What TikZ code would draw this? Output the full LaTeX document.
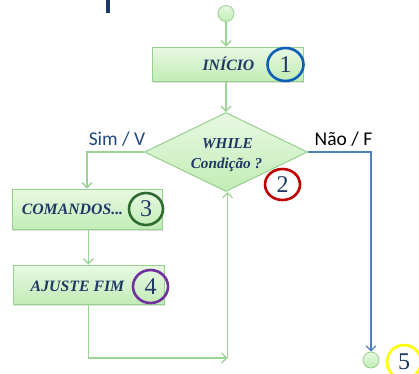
\documentclass[tikz,border=0pt]{standalone}
\usepackage{fontspec}
\setmainfont{Liberation Serif}
\newfontfamily\lblfont{Carlito}
\usetikzlibrary{shapes.geometric,arrows.meta,shadows}
\definecolor{navy}{HTML}{1F3864}
\definecolor{lblblue}{HTML}{1F497D}
\definecolor{gline}{HTML}{9CD497}
\definecolor{gborder}{HTML}{96D08E}
\definecolor{gtop}{HTML}{E8F9E2}
\definecolor{gbot}{HTML}{C2ECB6}
\definecolor{bline}{HTML}{4F81BD}
\definecolor{cblue}{HTML}{0E5FB8}
\definecolor{cred}{HTML}{C00000}
\definecolor{cgreen}{HTML}{2F6B30}
\definecolor{cpurple}{HTML}{7030A0}
\definecolor{cyellow}{HTML}{FFFF00}
\tikzset{
  boxstyle/.style={draw=gborder, line width=1pt, top color=gtop, bottom color=gbot,
    inner sep=0pt, drop shadow={opacity=0.25, shadow xshift=1.2pt, shadow yshift=-1.5pt}},
  boxtext/.style={font=\fontsize{15.8}{16}\selectfont\bfseries\itshape, text=navy, inner sep=0pt},
  numcirc/.style={ellipse, line width=2.6pt, inner sep=0pt, text=navy,
    font=\fontsize{24}{24}\selectfont},
  greenline/.style={draw=gline, line width=1.6pt, -{Straight Barb[length=5pt,width=10pt,line width=1.4pt]}},
  blueline/.style={draw=bline, line width=1.3pt, -{Straight Barb[length=5pt,width=10pt,line width=1.2pt]}},
  dotnode/.style={circle, draw=gborder, line width=0.8pt, top color=gtop, bottom color=gbot,
    minimum size=16pt, inner sep=0pt},
  lbl/.style={font=\lblfont\fontsize{19.5}{20}\selectfont, inner sep=0pt}
}
\begin{document}
\begin{tikzpicture}[x=1pt,y=-1pt]
\useasboundingbox[fill=white] (0,0) rectangle (419,373);
% clipped title fragment
\fill[navy] (106,0) rectangle (109.5,13);
% nodes
\node[dotnode] (start) at (226,13.5) {};
\node[boxstyle, minimum width=151pt, minimum height=34pt] (ini) at (227.5,64) {};
\node[boxtext] (initxt) at (228.5,64) {INÍCIO};
\node[numcirc, draw=cblue, minimum width=36pt, minimum height=33pt] (n1) at (285.5,64.5) {1};

\node[diamond, draw=gborder, line width=1pt, top color=gtop, bottom color=gbot, inner sep=0pt,
  minimum width=163pt, minimum height=79pt] (dia) at (226,152) {};
\node[boxtext, font=\fontsize{15.2}{16}\selectfont\bfseries\itshape] (whiletxt) at (227.5,144) {WHILE};
\node[boxtext, font=\fontsize{15.2}{16}\selectfont\bfseries\itshape] (condtxt) at (226.5,164.5) {Condição ?};
\node[numcirc, draw=cred, minimum width=35pt, minimum height=31pt] (n2) at (282.5,184.5) {2};

\node[lbl, text=lblblue] (sim) at (117,139) {Sim / V};
\node[lbl, text=black] (nao) at (343.5,139) {Não / F};

\node[boxstyle, minimum width=150pt, minimum height=40pt] (cmd) at (87,209) {};
\node[boxtext] (cmdtxt) at (72.5,209.5) {COMANDOS...};
\node[numcirc, draw=cgreen, minimum width=34pt, minimum height=32pt] (n3) at (146,209) {3};

\node[boxstyle, minimum width=151pt, minimum height=39pt] (aj) at (88.5,284.5) {};
\node[boxtext] (ajtxt) at (77.5,286) {AJUSTE FIM};
\node[numcirc, draw=cpurple, minimum width=35pt, minimum height=33pt] (n4) at (150.5,286.5) {4};

\node[dotnode] (endc) at (371,360) {};
\node[numcirc, draw=cyellow, minimum width=34pt, minimum height=34pt] (n5) at (404,362) {5};

\coordinate (corner) at (227.5,358);
% connectors
\draw[greenline] (start.south) -- (start.south |- ini.north);
\draw[greenline] (dia.north |- ini.south) -- (dia.north);
\draw[greenline] (dia.west) -| (cmd.north);
\draw[greenline] (cmd.south -| aj.south) -- (aj.north);
\draw[greenline] (aj.south) |- (corner);
\draw[greenline] (corner) -- (corner |- dia.south);
\draw[blueline] (dia.east) -| (endc.north);
\end{tikzpicture}
\end{document}
